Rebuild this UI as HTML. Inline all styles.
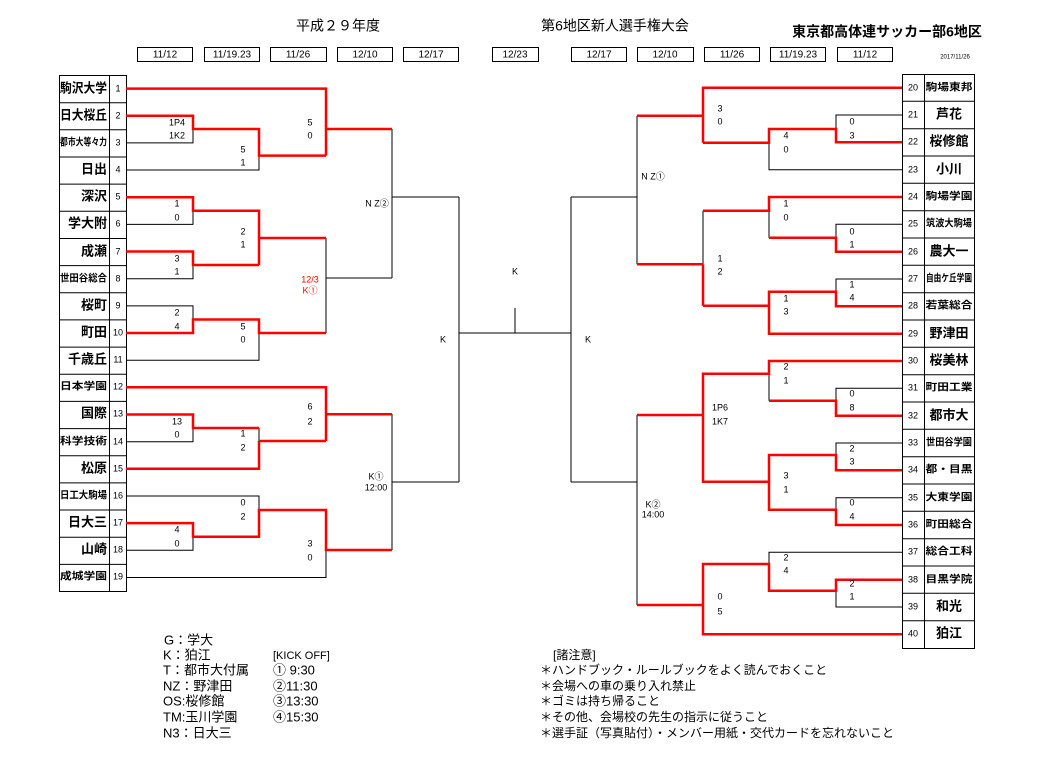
<!DOCTYPE html>
<html><head><meta charset="utf-8"><style>
html,body{margin:0;padding:0;background:#fff;}
svg{display:block;font-family:"Liberation Sans","Noto Sans CJK JP",sans-serif;}
.n{font-size:9px;text-anchor:middle;dominant-baseline:middle;}
.s{font-size:9px;text-anchor:middle;dominant-baseline:middle;}
.tl{font-size:13px;font-weight:bold;text-anchor:end;dominant-baseline:middle;}
.tls{font-size:10px;font-weight:bold;text-anchor:end;dominant-baseline:middle;}
.tr{font-size:13px;font-weight:bold;text-anchor:middle;dominant-baseline:middle;}
.trs{font-size:10px;font-weight:bold;text-anchor:middle;dominant-baseline:middle;}
.b{fill:none;stroke:#000;stroke-width:1;}
.r{fill:none;stroke:#f00;stroke-width:2.5;}
.d{font-size:10px;text-anchor:middle;dominant-baseline:middle;}
.lg{font-size:13px;}
</style></head><body>
<svg width="1046" height="761" viewBox="0 0 1046 761">
<text x="338" y="27" font-size="14" text-anchor="middle" dominant-baseline="middle">平成２９年度</text>
<text x="615" y="27" font-size="14" text-anchor="middle" dominant-baseline="middle">第6地区新人選手権大会</text>
<text x="887" y="33" font-size="14" font-weight="bold" text-anchor="middle" dominant-baseline="middle">東京都高体連サッカー部6地区</text>
<text x="955" y="57" font-size="6" text-anchor="middle" dominant-baseline="middle">2017/11/26</text>
<g fill="none" stroke="#000" stroke-width="1">
<rect x="137.5" y="47.5" width="55" height="14"/><rect x="204.5" y="47.5" width="55" height="14"/><rect x="270.5" y="47.5" width="56" height="14"/><rect x="337.5" y="47.5" width="55" height="14"/><rect x="403.5" y="47.5" width="55" height="14"/>
<rect x="492.5" y="47.5" width="46" height="14"/>
<rect x="571.5" y="47.5" width="55" height="14"/><rect x="637.5" y="47.5" width="56" height="14"/><rect x="704.5" y="47.5" width="55" height="14"/><rect x="770.5" y="47.5" width="55" height="14"/><rect x="837.5" y="47.5" width="55" height="14"/>
</g>
<text class="d" x="165" y="55">11/12</text><text class="d" x="232" y="55">11/19.23</text><text class="d" x="298" y="55">11/26</text><text class="d" x="365" y="55">12/10</text><text class="d" x="431" y="55">12/17</text>
<text class="d" x="515" y="55">12/23</text>
<text class="d" x="599" y="55">12/17</text><text class="d" x="665" y="55">12/10</text><text class="d" x="732" y="55">11/26</text><text class="d" x="798" y="55">11/19.23</text><text class="d" x="865" y="55">11/12</text>

<!-- left table -->
<g fill="none" stroke="#000" stroke-width="1">
<rect x="59.5" y="75.5" width="67" height="516"/>
<line x1="109.5" y1="75" x2="109.5" y2="591"/>
<path d="M59 102.7H126M59 129.8H126M59 157H126M59 184.1H126M59 211.3H126M59 238.5H126M59 265.6H126M59 292.8H126M59 319.9H126M59 347.1H126M59 374.3H126M59 401.4H126M59 428.6H126M59 455.7H126M59 482.9H126M59 510H126M59 537.2H126M59 564.4H126"/>
</g>
<text class="tl" x="107" y="89" textLength="47" lengthAdjust="spacingAndGlyphs">駒沢大学</text>
<text class="tl" x="107" y="116" textLength="47" lengthAdjust="spacingAndGlyphs">日大桜丘</text>
<text class="tls" x="107" y="143" font-size="8" textLength="47" lengthAdjust="spacingAndGlyphs">都市大等々力</text>
<text class="tl" x="107" y="170">日出</text>
<text class="tl" x="107" y="197">深沢</text>
<text class="tl" x="107" y="224">学大附</text>
<text class="tl" x="107" y="252">成瀬</text>
<text class="tls" x="107" y="279" textLength="47" lengthAdjust="spacingAndGlyphs">世田谷総合</text>
<text class="tl" x="107" y="306">桜町</text>
<text class="tl" x="107" y="333">町田</text>
<text class="tl" x="107" y="360">千歳丘</text>
<text class="tls" x="107" y="387" textLength="47" lengthAdjust="spacingAndGlyphs">日本学園</text>
<text class="tl" x="107" y="414">国際</text>
<text class="tls" x="107" y="442" textLength="47" lengthAdjust="spacingAndGlyphs">科学技術</text>
<text class="tl" x="107" y="469">松原</text>
<text class="tls" x="107" y="496" font-size="9" textLength="47" lengthAdjust="spacingAndGlyphs">日工大駒場</text>
<text class="tl" x="107" y="523">日大三</text>
<text class="tl" x="107" y="550">山崎</text>
<text class="tls" x="107" y="577" textLength="47" lengthAdjust="spacingAndGlyphs">成城学園</text>
<g class="n">
<text class="n" x="118" y="89">1</text><text class="n" x="118" y="116">2</text><text class="n" x="118" y="143">3</text><text class="n" x="118" y="170">4</text><text class="n" x="118" y="197">5</text><text class="n" x="118" y="224">6</text><text class="n" x="118" y="252">7</text><text class="n" x="118" y="279">8</text><text class="n" x="118" y="306">9</text><text class="n" x="118" y="333">10</text><text class="n" x="118" y="360">11</text><text class="n" x="118" y="387">12</text><text class="n" x="118" y="414">13</text><text class="n" x="118" y="442">14</text><text class="n" x="118" y="469">15</text><text class="n" x="118" y="496">16</text><text class="n" x="118" y="523">17</text><text class="n" x="118" y="550">18</text><text class="n" x="118" y="577">19</text>
</g>

<!-- right table -->
<g fill="none" stroke="#000" stroke-width="1">
<rect x="902.5" y="74.5" width="72" height="574"/>
<line x1="924.5" y1="74" x2="924.5" y2="648"/>
<path d="M902 101.3H974M902 128.7H974M902 156H974M902 183.3H974M902 210.7H974M902 238H974M902 265.3H974M902 292.7H974M902 320H974M902 347.3H974M902 374.7H974M902 402H974M902 429.3H974M902 456.7H974M902 484H974M902 511.3H974M902 538.7H974M902 566H974M902 593.3H974M902 620.7H974"/>
</g>
<text class="n" x="913" y="88">20</text><text class="n" x="913" y="115">21</text><text class="n" x="913" y="142">22</text><text class="n" x="913" y="170">23</text><text class="n" x="913" y="197">24</text><text class="n" x="913" y="224">25</text><text class="n" x="913" y="252">26</text><text class="n" x="913" y="279">27</text><text class="n" x="913" y="306">28</text><text class="n" x="913" y="334">29</text><text class="n" x="913" y="361">30</text><text class="n" x="913" y="388">31</text><text class="n" x="913" y="416">32</text><text class="n" x="913" y="443">33</text><text class="n" x="913" y="470">34</text><text class="n" x="913" y="498">35</text><text class="n" x="913" y="525">36</text><text class="n" x="913" y="552">37</text><text class="n" x="913" y="580">38</text><text class="n" x="913" y="607">39</text><text class="n" x="913" y="634">40</text>
<text class="trs" x="949" y="88" font-size="11" textLength="47" lengthAdjust="spacingAndGlyphs">駒場東邦</text>
<text class="tr" x="949" y="115">芦花</text>
<text class="tr" x="949" y="142">桜修館</text>
<text class="tr" x="949" y="170">小川</text>
<text class="trs" x="949" y="197" font-size="11" textLength="47" lengthAdjust="spacingAndGlyphs">駒場学園</text>
<text class="trs" x="949" y="224" font-size="9" textLength="46" lengthAdjust="spacingAndGlyphs">筑波大駒場</text>
<text class="tr" x="949" y="252">農大一</text>
<text class="trs" x="949" y="279" font-size="8" textLength="46" lengthAdjust="spacingAndGlyphs">自由ケ丘学園</text>
<text class="trs" x="949" y="306" font-size="11" textLength="47" lengthAdjust="spacingAndGlyphs">若葉総合</text>
<text class="tr" x="949" y="334">野津田</text>
<text class="tr" x="949" y="361">桜美林</text>
<text class="trs" x="949" y="388" font-size="11" textLength="47" lengthAdjust="spacingAndGlyphs">町田工業</text>
<text class="tr" x="949" y="416">都市大</text>
<text class="trs" x="949" y="443" font-size="9" textLength="46" lengthAdjust="spacingAndGlyphs">世田谷学園</text>
<text class="trs" x="949" y="470" font-size="11" textLength="47" lengthAdjust="spacingAndGlyphs">都・目黒</text>
<text class="trs" x="949" y="498" font-size="11" textLength="47" lengthAdjust="spacingAndGlyphs">大東学園</text>
<text class="trs" x="949" y="525" font-size="11" textLength="47" lengthAdjust="spacingAndGlyphs">町田総合</text>
<text class="trs" x="949" y="552" font-size="11" textLength="47" lengthAdjust="spacingAndGlyphs">総合工科</text>
<text class="trs" x="949" y="580" font-size="11" textLength="47" lengthAdjust="spacingAndGlyphs">目黒学院</text>
<text class="tr" x="949" y="607">和光</text>
<text class="tr" x="949" y="634">狛江</text>

<!-- left bracket black -->
<path class="b" d="M126 142.9H193V129M126 170H259V155.6M126 224.4H193V210.8M126 278.7H193V265M126 305.9H193V319.5M126 360.2H259V333M326 238V333M326 278H392M392 129V278M392 197H459M126 441.7H193V428M259 427.7V441M126 496H259V510M126 550.3H193V536.7M126 577.5H326V550M392 414V550M392 482H459M459 197V482M459 333H571M515 333V308M571 197V482M571 197H637M571 482H637"/>
<!-- right bracket black -->
<path class="b" d="M902 115H836V129M902 169.7H769V142.7M637 115.7V264.3M902 224.3H836V237.7M769 210.7V237.7M902 279H836V291.7M703 210.7V264.3M902 388.3H836V400.7M769 373.7V400.7M902 443H836V455M902 497.7H836V509.7M769 481.7V509.7M637 415V605M902 552.3H769V564M902 607H836V590.7"/>
<!-- red left -->
<path class="r" d="M126 88.6H326V155.6M326 129H392M126 115.7H193V129H259V155.6H326M126 197.2H193V210.8H259V265M126 251.5H193V265H259M259 238H326M126 333H193V319.5H259V333H326M126 387.3H326V441M326 414.3H392M259 441H326M126 414.5H193V428H259M126 468.8H259V441M126 523.1H193V536.7H259V510H326V550H392"/>
<!-- red right -->
<path class="r" d="M902 87.7H703V142.7M703 115.7H637M902 142.3H836V129H769V142.7H703M902 197H769V210.7H703M703 264.3V305.7M703 264.3H637M902 251.7H836V237.7H769M902 306.3H836V291.7H769V333.7H902M769 305.7H703M902 361H769V373.7H703V481.7H769V455H836V470.3H902M703 415H637M902 415.7H836V400.7H769M902 525H836V509.7H769V481.7M902 579.7H836V590.7H769V564H703V634.3H902M703 605H637"/>

<!-- scores left -->
<text class="s" x="177" y="123">1P4</text><text class="s" x="177" y="136">1K2</text>
<text class="s" x="243" y="150">5</text><text class="s" x="243" y="163">1</text>
<text class="s" x="310" y="123">5</text><text class="s" x="310" y="136">0</text>
<text class="s" x="177" y="204">1</text><text class="s" x="177" y="218">0</text>
<text class="s" x="177" y="259">3</text><text class="s" x="177" y="272">1</text>
<text class="s" x="243" y="232">2</text><text class="s" x="243" y="245">1</text>
<text class="s" x="177" y="313">2</text><text class="s" x="177" y="327">4</text>
<text class="s" x="243" y="327">5</text><text class="s" x="243" y="340">0</text>
<text class="s" x="177" y="422">13</text><text class="s" x="177" y="435">0</text>
<text class="s" x="243" y="434">1</text><text class="s" x="243" y="448">2</text>
<text class="s" x="310" y="407">6</text><text class="s" x="310" y="422">2</text>
<text class="s" x="243" y="503">0</text><text class="s" x="243" y="517">2</text>
<text class="s" x="177" y="530">4</text><text class="s" x="177" y="544">0</text>
<text class="s" x="310" y="544">3</text><text class="s" x="310" y="558">0</text>
<!-- scores right -->
<text class="s" x="852" y="122">0</text><text class="s" x="852" y="136">3</text>
<text class="s" x="786" y="136">4</text><text class="s" x="786" y="150">0</text>
<text class="s" x="720" y="109">3</text><text class="s" x="720" y="122">0</text>
<text class="s" x="786" y="204">1</text><text class="s" x="786" y="218">0</text>
<text class="s" x="852" y="232">0</text><text class="s" x="852" y="245">1</text>
<text class="s" x="720" y="259">1</text><text class="s" x="720" y="272">2</text>
<text class="s" x="852" y="285">1</text><text class="s" x="852" y="298">4</text>
<text class="s" x="786" y="299">1</text><text class="s" x="786" y="312">3</text>
<text class="s" x="786" y="367">2</text><text class="s" x="786" y="381">1</text>
<text class="s" x="852" y="394">0</text><text class="s" x="852" y="408">8</text>
<text class="s" x="720" y="408">1P6</text><text class="s" x="720" y="422">1K7</text>
<text class="s" x="852" y="449">2</text><text class="s" x="852" y="462">3</text>
<text class="s" x="786" y="476">3</text><text class="s" x="786" y="490">1</text>
<text class="s" x="852" y="503">0</text><text class="s" x="852" y="517">4</text>
<text class="s" x="786" y="558">2</text><text class="s" x="786" y="571">4</text>
<text class="s" x="852" y="584">2</text><text class="s" x="852" y="597">1</text>
<text class="s" x="720" y="597">0</text><text class="s" x="720" y="612">5</text>

<!-- match labels -->
<text class="s" x="377" y="204">N Z②</text>
<text class="s" x="310" y="280" fill="#f00">12/3</text><text class="s" x="310" y="291" fill="#f00">K①</text>
<text class="s" x="376" y="477">K①</text><text class="s" x="376" y="488">12:00</text>
<text class="s" x="443" y="340">K</text>
<text class="s" x="515" y="272">K</text>
<text class="s" x="588" y="340">K</text>
<text class="s" x="653" y="177">N Z①</text>
<text class="s" x="653" y="505">K②</text><text class="s" x="653" y="515">14:00</text>

<!-- legend -->
<g class="lg" dominant-baseline="middle">
<text x="164" y="641">G：学大</text>
<text x="163" y="656">K：狛江</text>
<text x="163" y="671">T：都市大付属</text>
<text x="163" y="687">NZ：野津田</text>
<text x="163" y="702">OS:桜修館</text>
<text x="163" y="718">TM:玉川学園</text>
<text x="163" y="734">N3：日大三</text>
<text x="273" y="656" font-size="11">[KICK OFF]</text>
<text x="273" y="671">① 9:30</text>
<text x="273" y="687">②11:30</text>
<text x="273" y="702">③13:30</text>
<text x="273" y="718">④15:30</text>
</g>
<g font-size="12" dominant-baseline="middle">
<text x="553" y="656">[諸注意]</text>
<text x="540" y="671">＊ハンドブック・ルールブックをよく読んでおくこと</text>
<text x="540" y="687">＊会場への車の乗り入れ禁止</text>
<text x="540" y="702">＊ゴミは持ち帰ること</text>
<text x="540" y="718">＊その他、会場校の先生の指示に従うこと</text>
<text x="540" y="734">＊選手証（写真貼付）・メンバー用紙・交代カードを忘れないこと</text>
</g>
</svg>
</body></html>
